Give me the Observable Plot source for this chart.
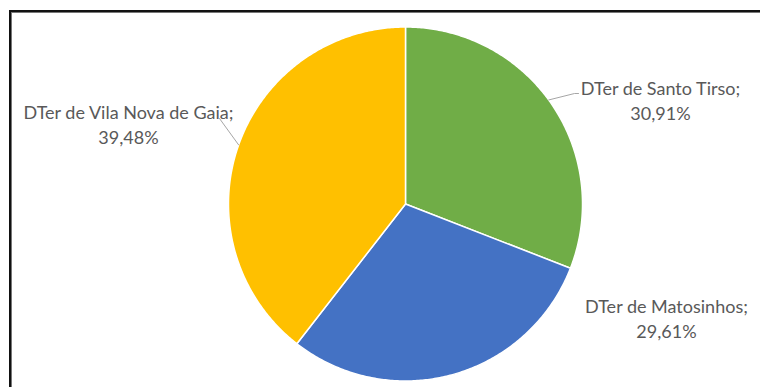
<!DOCTYPE html>
<html>
<head>
<meta charset="utf-8">
<script src="https://cdn.jsdelivr.net/npm/d3@7"></script>
<script src="https://cdn.jsdelivr.net/npm/@observablehq/plot@0.6"></script>
<style>
  html, body { margin: 0; padding: 0; background: #fff; }
  #wrap { position: relative; width: 760px; height: 387px; overflow: hidden; }
  #frame { position: absolute; left: 9px; top: 10px; width: 800px; height: 420px;
           border: 2px solid #111; box-shadow: inset 0 0 0 1px #777; pointer-events: none; }
  #chart { position: absolute; left: 0; top: 0; }
</style>
</head>
<body>
<div id="wrap"><div id="chart"></div><div id="frame"></div></div>
<script>
// Data
const categories = ["DTer de Santo Tirso", "DTer de Matosinhos", "DTer de Vila Nova de Gaia"];
const shares = [30.91, 29.61, 39.48];
const colors = ["#70AD47", "#4472C4", "#FFC000"];

// Layout (pixel space)
const W = 760, H = 387;
const cx = 405, cy = 203.5, R = 177;
const labelPos = [[660, 99], [666, 317], [128, 123]];
const leaderAngles = [[54, 574, 93, 578, 93], null, [289.5, 219, 118, null, null]];

const pie = d3.pie().sort(null).value(d => d)(shares);
const toXY = a => [cx + R * Math.sin(a), cy - R * Math.cos(a)];

const slicePts = [];
pie.forEach((p, i) => {
  const n = Math.max(8, Math.ceil((p.endAngle - p.startAngle) / 0.01));
  slicePts.push({name: categories[i], x: cx, y: cy});
  for (let k = 0; k <= n; k++) {
    const a = p.startAngle + (p.endAngle - p.startAngle) * k / n;
    const [x, y] = toXY(a);
    slicePts.push({name: categories[i], x, y});
  }
});

const leaders = [];
leaderAngles.forEach((l, i) => {
  if (!l) return;
  const [x0, y0] = toXY(l[0] * Math.PI / 180);
  leaders.push({id: i, x: x0, y: y0});
  leaders.push({id: i, x: l[1], y: l[2]});
  if (l[3] != null) leaders.push({id: i, x: l[3], y: l[4]});
});

const fmt = v => v.toFixed(2).replace(".", ",") + "%";
const labels = categories.map((c, i) => ({
  text: c + ";\n" + fmt(shares[i]), x: labelPos[i][0], y: labelPos[i][1]
}));

const chart = Plot.plot({
  width: W, height: H,
  margin: 0,
  x: {domain: [0, W], range: [0, W], axis: null},
  y: {domain: [0, H], range: [0, H], axis: null},
  color: {domain: categories, range: colors},
  style: {fontFamily: "Lato, 'Open Sans', sans-serif", background: "transparent"},
  marks: [
    Plot.line(slicePts, {x: "x", y: "y", z: "name", fill: "name", stroke: "white",
                         strokeWidth: 1.5, curve: "linear-closed"}),
    Plot.line(leaders, {x: "x", y: "y", z: "id", stroke: "#A6A6A6", strokeWidth: 1}),
    Plot.text(labels, {x: "x", y: "y", text: "text", fill: "#595959", fontSize: 18,
                       lineHeight: 1.36, textAnchor: "middle"})
  ]
});
document.getElementById("chart").appendChild(chart);
</script>
</body>
</html>
